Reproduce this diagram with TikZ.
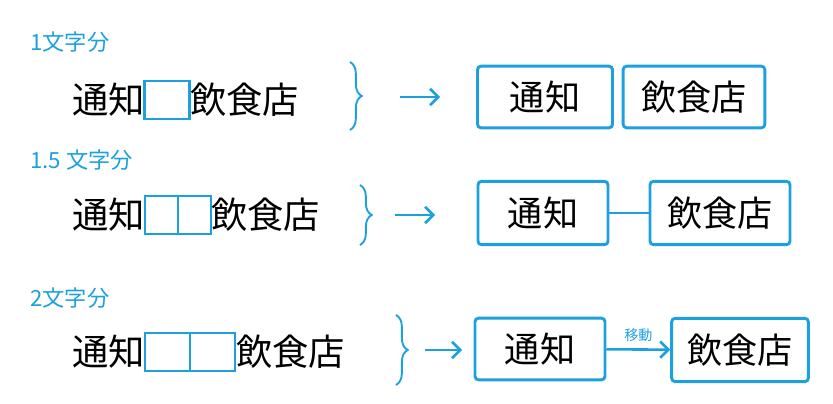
\documentclass[tikz,border=0pt]{standalone}
\usepackage{fontspec}
\setmainfont{Noto Sans CJK JP}
\usetikzlibrary{decorations.pathreplacing,arrows.meta}
\definecolor{sky}{RGB}{28,160,222}
\tikzset{lbl/.style={text=sky,font=\fontsize{19}{19}\selectfont,anchor=west,inner sep=0pt},
  word/.style={font=\fontsize{31}{31}\selectfont,inner sep=0pt},
  gap/.style={draw=sky,line width=2pt,minimum height=1.15cm,inner sep=0pt},
  res/.style={draw=sky,line width=2.5pt,rounded corners=3pt,font=\fontsize{30}{30}\selectfont,inner sep=0pt},
  pbrace/.style={decorate,decoration={brace,amplitude=10pt},draw=sky,line width=1.6pt},
  go/.style={-{Straight Barb[length=7pt]},draw=sky,line width=2.2pt}}
\begin{document}
\begin{tikzpicture}[x=0.03cm,y=-0.03cm]
\useasboundingbox (0,0) rectangle (833,404);
% 1 character
\node[lbl] (l1) at (30,42) {1文字分};
\node[word,anchor=east] (a1) at (145,100) {通知};
\node[gap,minimum width=1.35cm] (g1) at (167,100) {};
\node[word,anchor=west] (b1) at (190,100) {飲食店};
\draw[pbrace] (350,62) -- (350,130);
\coordinate (s1) at (400,97); \coordinate (e1) at (440,97);
\draw[go] (s1) -- (e1);
\node[res,minimum width=4.05cm,minimum height=1.85cm] (r1) at (545,97) {通知};
\node[res,minimum width=4.25cm,minimum height=1.85cm] (t1) at (694,97) {飲食店};
% 1.5 characters
\node[lbl] (l2) at (30,160) {1.5 文字分};
\node[word,anchor=east] (a2) at (145,215) {通知};
\node[gap,minimum width=0.99cm] (g2a) at (161.5,215) {};
\node[gap,minimum width=0.99cm] (g2b) at (194.5,215) {};
\node[word,anchor=west] (b2) at (211,215) {飲食店};
\draw[pbrace] (360,185) -- (360,245);
\coordinate (s2) at (395,215); \coordinate (e2) at (435,215);
\draw[go] (s2) -- (e2);
\node[res,minimum width=3.9cm,minimum height=1.9cm] (r2) at (543,213) {通知};
\node[res,minimum width=4.2cm,minimum height=1.9cm] (t2) at (720,213) {飲食店};
\draw[sky,line width=2.2pt] (r2) -- (t2);
% 2 characters
\node[lbl] (l3) at (30,298) {2文字分};
\node[word,anchor=east] (a3) at (145,352) {通知};
\node[gap,minimum width=1.35cm] (g3a) at (167.5,352) {};
\node[gap,minimum width=1.35cm] (g3b) at (212.5,352) {};
\node[word,anchor=west] (b3) at (236,352) {飲食店};
\draw[pbrace] (396,315) -- (396,385);
\coordinate (s3) at (425,350); \coordinate (e3) at (462,350);
\draw[go] (s3) -- (e3);
\node[res,minimum width=3.9cm,minimum height=1.85cm] (r3) at (540,349) {通知};
\node[res,minimum width=4.1cm,minimum height=1.9cm] (t3) at (740,350) {飲食店};
\draw[go] (r3) -- node[above=2pt,text=sky,font=\fontsize{12}{12}\selectfont] {移動} (t3);
\end{tikzpicture}
\end{document}
